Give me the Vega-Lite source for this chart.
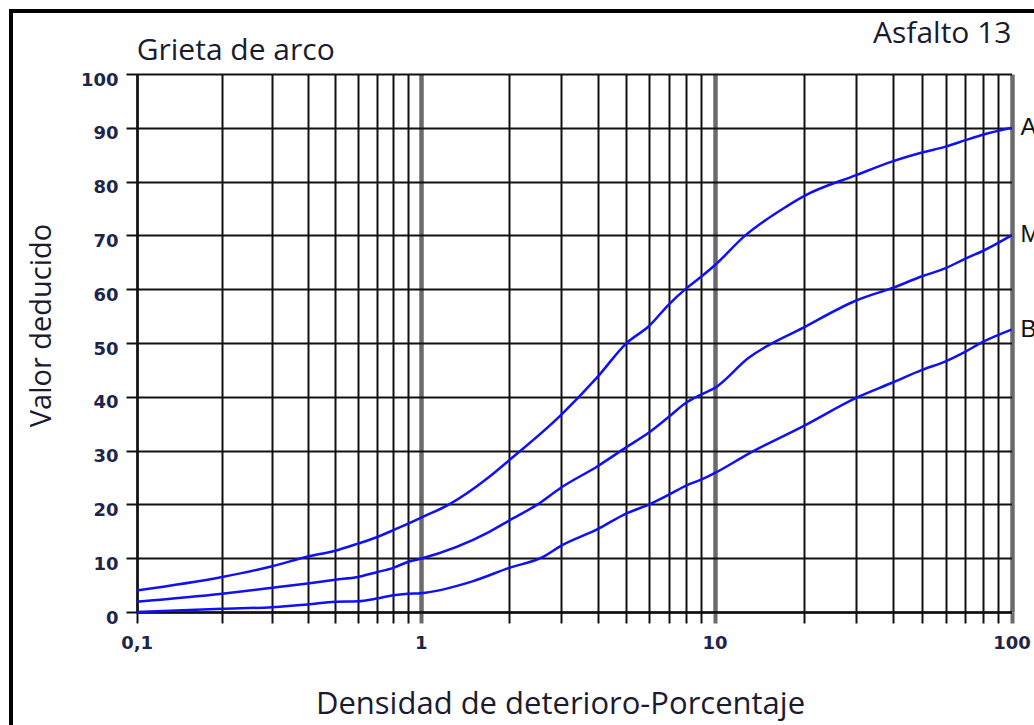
{
  "$schema": "https://vega.github.io/schema/vega-lite/v6.json",
  "width": 1031,
  "height": 722,
  "autosize": "none",
  "padding": {"left": 11, "top": 11, "right": -8, "bottom": -8},
  "background": "white",
  "data": {
    "values": [
      {"serie": "A", "x": 0.1, "y": 4.0},
      {"serie": "A", "x": 0.2, "y": 6.5},
      {"serie": "A", "x": 0.3, "y": 8.5},
      {"serie": "A", "x": 0.4, "y": 10.3},
      {"serie": "A", "x": 0.5, "y": 11.4},
      {"serie": "A", "x": 0.6, "y": 12.7},
      {"serie": "A", "x": 0.7, "y": 13.9},
      {"serie": "A", "x": 0.8, "y": 15.2},
      {"serie": "A", "x": 0.9, "y": 16.4},
      {"serie": "A", "x": 1, "y": 17.5},
      {"serie": "A", "x": 1.25, "y": 20.0},
      {"serie": "A", "x": 1.7, "y": 25.0},
      {"serie": "A", "x": 2, "y": 28.2},
      {"serie": "A", "x": 3, "y": 36.6},
      {"serie": "A", "x": 4, "y": 43.7},
      {"serie": "A", "x": 5, "y": 49.9},
      {"serie": "A", "x": 6, "y": 53.2},
      {"serie": "A", "x": 7, "y": 57.2},
      {"serie": "A", "x": 8, "y": 60.1},
      {"serie": "A", "x": 9, "y": 62.3},
      {"serie": "A", "x": 10, "y": 64.4},
      {"serie": "A", "x": 12.7, "y": 70.0},
      {"serie": "A", "x": 17.5, "y": 75.4},
      {"serie": "A", "x": 20, "y": 77.3},
      {"serie": "A", "x": 30, "y": 81.2},
      {"serie": "A", "x": 40, "y": 83.8},
      {"serie": "A", "x": 50, "y": 85.4},
      {"serie": "A", "x": 60, "y": 86.5},
      {"serie": "A", "x": 70, "y": 87.7},
      {"serie": "A", "x": 80, "y": 88.7},
      {"serie": "A", "x": 100, "y": 90},
      {"serie": "M", "x": 0.1, "y": 1.9},
      {"serie": "M", "x": 0.2, "y": 3.4},
      {"serie": "M", "x": 0.3, "y": 4.5},
      {"serie": "M", "x": 0.4, "y": 5.3},
      {"serie": "M", "x": 0.5, "y": 6.0},
      {"serie": "M", "x": 0.6, "y": 6.5},
      {"serie": "M", "x": 0.7, "y": 7.4},
      {"serie": "M", "x": 0.8, "y": 8.2},
      {"serie": "M", "x": 0.9, "y": 9.3},
      {"serie": "M", "x": 1, "y": 9.9},
      {"serie": "M", "x": 1.7, "y": 14.8},
      {"serie": "M", "x": 2, "y": 17.0},
      {"serie": "M", "x": 2.5, "y": 20.0},
      {"serie": "M", "x": 3, "y": 23.1},
      {"serie": "M", "x": 4, "y": 27.1},
      {"serie": "M", "x": 5, "y": 30.6},
      {"serie": "M", "x": 6, "y": 33.4},
      {"serie": "M", "x": 7, "y": 36.3},
      {"serie": "M", "x": 8, "y": 38.9},
      {"serie": "M", "x": 9, "y": 40.4},
      {"serie": "M", "x": 10, "y": 41.6},
      {"serie": "M", "x": 13, "y": 47.2},
      {"serie": "M", "x": 20, "y": 52.9},
      {"serie": "M", "x": 30, "y": 57.9},
      {"serie": "M", "x": 40, "y": 60.3},
      {"serie": "M", "x": 50, "y": 62.4},
      {"serie": "M", "x": 60, "y": 63.9},
      {"serie": "M", "x": 70, "y": 65.7},
      {"serie": "M", "x": 80, "y": 67.1},
      {"serie": "M", "x": 100, "y": 70},
      {"serie": "B", "x": 0.1, "y": 0},
      {"serie": "B", "x": 0.2, "y": 0.6},
      {"serie": "B", "x": 0.3, "y": 0.9},
      {"serie": "B", "x": 0.4, "y": 1.4},
      {"serie": "B", "x": 0.5, "y": 1.9},
      {"serie": "B", "x": 0.6, "y": 2.0},
      {"serie": "B", "x": 0.7, "y": 2.5},
      {"serie": "B", "x": 0.8, "y": 3.1},
      {"serie": "B", "x": 0.9, "y": 3.4},
      {"serie": "B", "x": 1, "y": 3.5},
      {"serie": "B", "x": 1.5, "y": 5.7},
      {"serie": "B", "x": 2, "y": 8.2},
      {"serie": "B", "x": 2.6, "y": 10.2},
      {"serie": "B", "x": 3, "y": 12.3},
      {"serie": "B", "x": 4, "y": 15.4},
      {"serie": "B", "x": 5, "y": 18.3},
      {"serie": "B", "x": 6, "y": 20.0},
      {"serie": "B", "x": 7, "y": 21.8},
      {"serie": "B", "x": 8, "y": 23.5},
      {"serie": "B", "x": 9, "y": 24.6},
      {"serie": "B", "x": 10, "y": 25.8},
      {"serie": "B", "x": 13, "y": 29.4},
      {"serie": "B", "x": 20, "y": 34.6},
      {"serie": "B", "x": 30, "y": 39.8},
      {"serie": "B", "x": 40, "y": 42.7},
      {"serie": "B", "x": 50, "y": 45.0},
      {"serie": "B", "x": 60, "y": 46.6},
      {"serie": "B", "x": 70, "y": 48.4},
      {"serie": "B", "x": 80, "y": 50.2},
      {"serie": "B", "x": 100, "y": 52.5}
    ]
  },
  "layer": [
    {
      "mark": {"type": "line", "color": "#1010f5", "strokeWidth": 2.5, "interpolate": "monotone", "clip": false},
      "encoding": {
        "x": {
          "field": "x",
          "type": "quantitative",
          "scale": {"type": "log", "domain": [0.1, 1, 10, 100], "range": [125.7, 409.7, 703.5, 1000.5]},
          "axis": {
            "orient": "bottom",
            "offset": -121,
            "grid": false,
            "values": [0.1, 0.2, 0.3, 0.4, 0.5, 0.6, 0.7, 0.8, 0.9, 1, 2, 3, 4, 5, 6, 7, 8, 9, 10, 20, 30, 40, 50, 60, 70, 80, 90, 100],
            "labelExpr": "datum.value == 0.1 ? '0,1' : (datum.value == 1 || datum.value == 10 || datum.value == 100) ? datum.label : ''",
            "tickSize": 11,
            "tickColor": {"condition": {"test": "datum.value == 1 || datum.value == 10 || datum.value == 100", "value": "#6b6b6b"}, "value": "#111111"},
            "tickWidth": {"condition": {"test": "datum.value == 1 || datum.value == 10 || datum.value == 100", "value": 4}, "value": 2},
            "domainColor": "#111111",
            "domainWidth": 2.5,
            "labelPadding": 25,
            "labelBaseline": "alphabetic",
            "labelAlign": "center",
            "labelFont": "DejaVu Sans",
            "labelFontWeight": "bold",
            "labelFontSize": 18,
            "labelColor": "#1e2548",
            "labelOverlap": false,
            "title": "Densidad de deterioro-Porcentaje",
            "titleX": 549,
            "titleY": 101,
            "titleAlign": "center",
            "titleBaseline": "alphabetic",
            "titleFont": "Open Sans",
            "titleFontWeight": "normal",
            "titleFontSize": 31,
            "titleColor": "#1b1b2f"
          }
        },
        "y": {
          "field": "y",
          "type": "quantitative",
          "scale": {"domain": [0, 100], "range": [601, 63], "nice": false, "zero": false},
          "axis": {
            "orient": "left",
            "offset": -126,
            "values": [0, 10, 20, 30, 40, 50, 60, 70, 80, 90, 100],
            "grid": true,
            "gridColor": "#111111",
            "gridWidth": 2,
            "gridOpacity": 1,
            "tickSize": 11,
            "tickColor": "#111111",
            "tickWidth": 2,
            "domainColor": "#111111",
            "domainWidth": 2.5,
            "labelPadding": 8,
            "labelBaseline": "alphabetic",
            "labelOffset": 11,
            "labelFont": "DejaVu Sans",
            "labelFontWeight": "bold",
            "labelFontSize": 18,
            "labelColor": "#1e2548",
            "title": "Valor deducido",
            "titleAngle": 270,
            "titleX": -87,
            "titleY": 314,
            "titleAlign": "center",
            "titleBaseline": "alphabetic",
            "titleFont": "Open Sans",
            "titleFontWeight": "normal",
            "titleFontSize": 29,
            "titleColor": "#1b1b2f"
          }
        },
        "detail": {"field": "serie"}
      }
    },
    {
      "transform": [{"filter": "datum.x == 100"}],
      "mark": {"type": "text", "align": "left", "baseline": "middle", "dx": 9, "font": "Liberation Sans", "fontSize": 24, "color": "#111111"},
      "encoding": {
        "x": {
          "field": "x",
          "type": "quantitative",
          "scale": {"type": "log", "domain": [0.1, 1, 10, 100], "range": [125.7, 409.7, 703.5, 1000.5]},
          "axis": {
            "orient": "top",
            "offset": 0,
            "values": [0.1, 0.2, 0.3, 0.4, 0.5, 0.6, 0.7, 0.8, 0.9, 1, 2, 3, 4, 5, 6, 7, 8, 9, 10, 20, 30, 40, 50, 60, 70, 80, 90, 100],
            "grid": true,
            "gridOpacity": 1,
            "gridColor": {"condition": {"test": "datum.value == 1 || datum.value == 10 || datum.value == 100", "value": "#6b6b6b"}, "value": "#111111"},
            "gridWidth": {"condition": {"test": "datum.value == 1 || datum.value == 10 || datum.value == 100", "value": 4.5}, "value": 2},
            "ticks": false,
            "labels": false,
            "domain": false,
            "title": null
          }
        },
        "y": {"field": "y", "type": "quantitative", "axis": null},
        "text": {"field": "serie"}
      }
    },
    {
      "data": {"values": [{}]},
      "mark": {"type": "text", "text": "Grieta de arco", "align": "left", "baseline": "alphabetic", "font": "Open Sans", "fontSize": 30, "fontWeight": "normal", "color": "#1b1b2f"},
      "encoding": {
        "x": {"datum": 0.1, "type": "quantitative", "axis": null},
        "y": {"datum": 102.6, "type": "quantitative", "axis": null}
      }
    },
    {
      "data": {"values": [{}]},
      "mark": {"type": "text", "text": "Asfalto 13", "align": "right", "baseline": "alphabetic", "font": "Open Sans", "fontSize": 30, "fontWeight": "normal", "color": "#1b1b2f"},
      "encoding": {
        "x": {"datum": 100, "type": "quantitative", "axis": null},
        "y": {"datum": 105.8, "type": "quantitative", "axis": null}
      }
    }
  ],
  "resolve": {"axis": {"x": "independent", "y": "independent"}},
  "config": {
    "view": {"stroke": "#000000", "strokeWidth": 4}
  }
}
